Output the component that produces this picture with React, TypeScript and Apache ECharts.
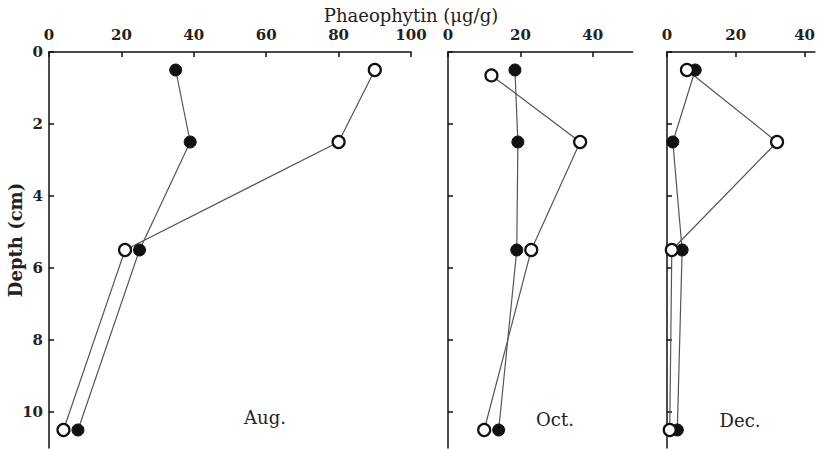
import React, { useEffect, useRef } from "react";
import * as echarts from "echarts";

// Depths (cm)
const depths = [0.5, 2.5, 5.5, 10.5];
const depthsOctOpen = [0.65, 2.5, 5.5, 10.5];
const depthTicks = [0, 2, 4, 6, 8, 10];

// Phaeophytin (µg/g)
const augFilled = [35, 39, 25, 8];
const augOpen = [90, 80, 21, 4];
const octFilled = [18.5, 19.3, 19, 14];
const octOpen = [12, 36.5, 23, 10];
const decFilled = [8.2, 1.7, 4.4, 3];
const decOpen = [5.8, 32, 1.4, 0.8];

const augTicks = [0, 20, 40, 60, 80, 100];
const smallTicks = [0, 20, 40];
const panelLabels = ["Aug.", "Oct.", "Dec."];

const FONT = "DejaVu Serif";

function pairs(xs: number[], ys: number[]) {
  return xs.map((x, i) => [x, ys[i]]);
}

export default function App() {
  const ref = useRef<HTMLDivElement>(null);
  useEffect(() => {
    if (!ref.current) return;
    const chart = echarts.init(ref.current, undefined, { renderer: "svg" });
    const top = 52;
    const pxPerDepth = 36;
    const depthMax = 11;
    const pxPerUnit = 3.62;
    const panels = [
      { left: 49, max: 100, ticks: augTicks },
      { left: 448, max: 51, ticks: smallTicks },
      { left: 667, max: 43, ticks: smallTicks },
    ];
    const grids = panels.map((p) => ({
      left: p.left,
      top,
      width: p.max * pxPerUnit,
      height: depthMax * pxPerDepth,
    }));
    const axisLine = { show: true, lineStyle: { color: "#111", width: 1.5 } };
    const xAxes = panels.map((p, i) => ({
      type: "value",
      gridIndex: i,
      position: "top",
      min: 0,
      max: p.max,
      axisLine,
      axisTick: { show: true, inside: true, length: 5, customValues: p.ticks, lineStyle: { color: "#111", width: 1.5 } },
      axisLabel: {
        show: true,
        customValues: p.ticks,
        fontFamily: FONT,
        fontSize: 15,
        fontWeight: 600,
        color: "#222",
        margin: 10,
      },
      splitLine: { show: false },
    }));
    const yAxes = panels.map((p, i) => ({
      type: "value",
      gridIndex: i,
      inverse: true,
      min: 0,
      max: depthMax,
      axisLine,
      axisTick: { show: true, inside: true, length: 5, customValues: depthTicks, lineStyle: { color: "#111", width: 1.5 } },
      axisLabel: {
        show: i === 0,
        customValues: depthTicks,
        fontFamily: FONT,
        fontSize: 15,
        fontWeight: 600,
        color: "#222",
        margin: 6,
      },
      splitLine: { show: false },
    }));
    const lineStyle = { color: "#555", width: 1.2 };
    const filled = { color: "#111", borderColor: "#111", borderWidth: 1 };
    const open = { color: "#fff", borderColor: "#111", borderWidth: 2.2 };
    const mk = (name: string, data: number[][], idx: number, style: any) => ({
      name,
      type: "line",
      xAxisIndex: idx,
      yAxisIndex: idx,
      data,
      symbol: "circle",
      symbolSize: 12,
      showAllSymbol: true,
      lineStyle,
      itemStyle: style,
      z: 3,
    });
    const series = [
      mk("Aug filled", pairs(augFilled, depths), 0, filled),
      mk("Aug open", pairs(augOpen, depths), 0, open),
      mk("Oct filled", pairs(octFilled, depths), 1, filled),
      mk("Oct open", pairs(octOpen, depthsOctOpen), 1, open),
      mk("Dec filled", pairs(decFilled, depths), 2, filled),
      mk("Dec open", pairs(decOpen, depths), 2, open),
    ];
    const labelPos = [
      [265, 417],
      [555, 419],
      [740, 420],
    ];
    chart.setOption({
      animation: false,
      backgroundColor: "#fff",
      grid: grids,
      xAxis: xAxes,
      yAxis: yAxes,
      series,
      graphic: [
        {
          type: "text",
          x: 411,
          y: 15,
          style: {
            text: "Phaeophytin (μg/g)",
            fontFamily: FONT,
            fontSize: 18,
            fill: "#222",
            align: "center",
            verticalAlign: "middle",
          },
        },
        {
          type: "text",
          x: 15,
          y: 240,
          rotation: Math.PI / 2,
          style: {
            text: "Depth (cm)",
            fontFamily: FONT,
            fontSize: 18,
            fontWeight: 600,
            fill: "#222",
            align: "center",
            verticalAlign: "middle",
          },
        },
        ...panelLabels.map((t, i) => ({
          type: "text",
          x: labelPos[i][0],
          y: labelPos[i][1],
          style: {
            text: t,
            fontFamily: FONT,
            fontSize: 18,
            fill: "#222",
            align: "center",
            verticalAlign: "middle",
          },
        })),
      ],
    });
    return () => chart.dispose();
  }, []);
  return (
    <div
      ref={ref}
      style={{ position: "absolute", left: 0, top: 0, width: 818, height: 449 }}
    />
  );
}
